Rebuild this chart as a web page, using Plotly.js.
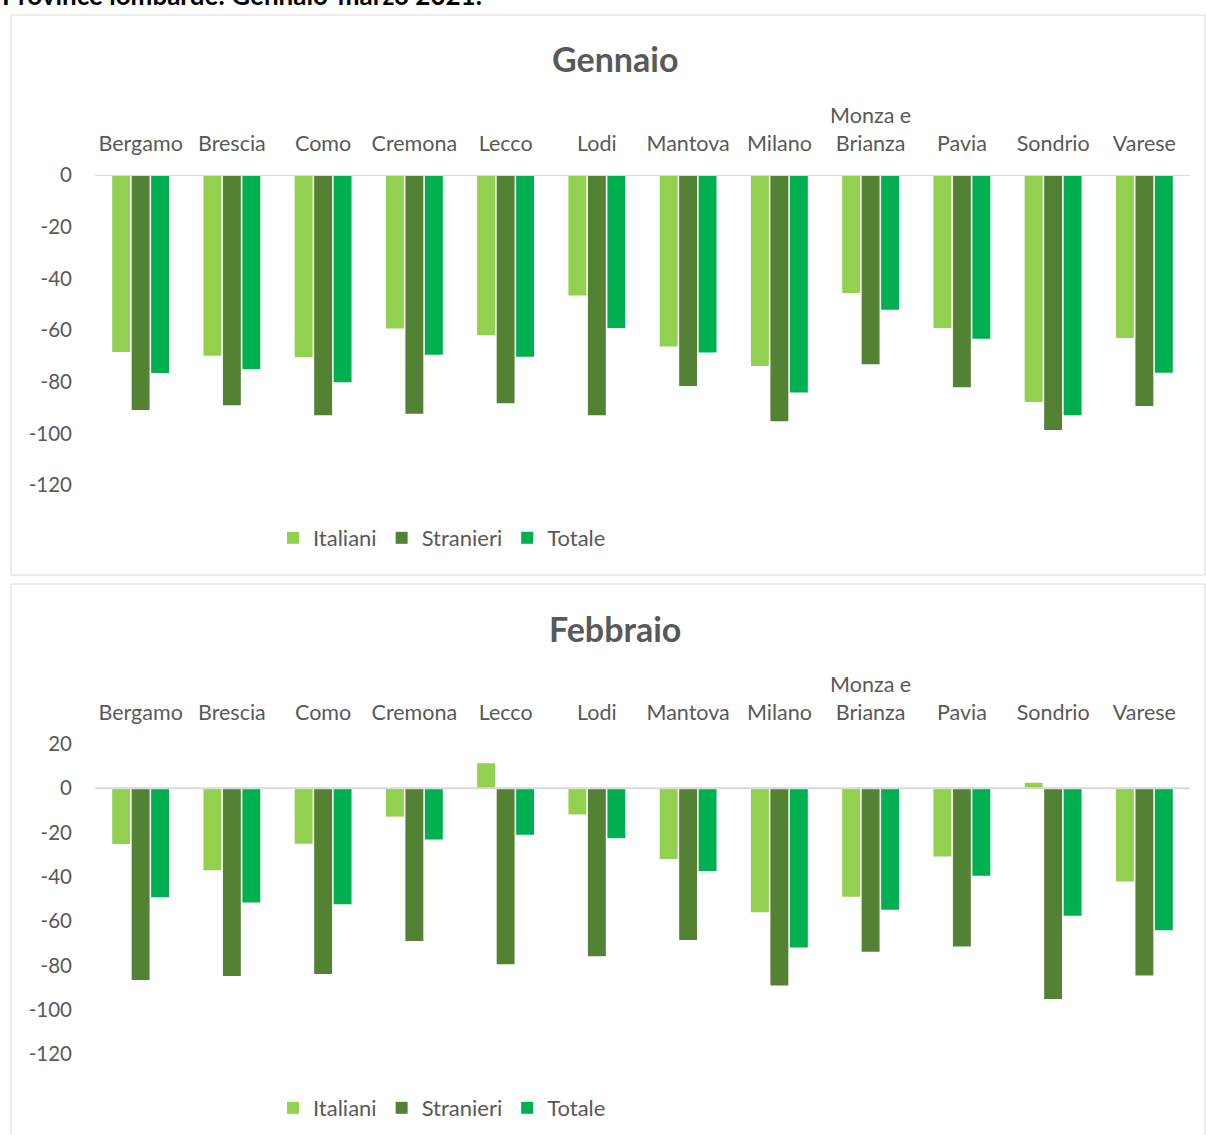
<!DOCTYPE html>
<html>
<head>
<meta charset="utf-8">
<script src="https://cdn.plot.ly/plotly-3.0.1.min.js"></script>
<style>html,body{margin:0;padding:0;background:#fff;}#chart{width:1206px;height:1135px;}</style>
</head>
<body>
<div id="chart"></div>
<script>
const provinces = ["Bergamo","Brescia","Como","Cremona","Lecco","Lodi","Mantova","Milano","Monza e<br>Brianza","Pavia","Sondrio","Varese"];
const series = ["Italiani","Stranieri","Totale"];
const colors = ["#92D050","#548235","#00B050"];

const genItaliani  = [-68.5,-70.0,-70.5,-59.4,-62.0,-46.6,-66.4,-73.9,-45.7,-59.2,-87.9,-63.1];
const genStranieri = [-91.0,-89.1,-93.0,-92.4,-88.4,-93.0,-81.7,-95.3,-73.3,-82.2,-98.7,-89.4];
const genTotale    = [-76.6,-75.2,-80.2,-69.6,-70.4,-59.2,-68.7,-84.2,-52.2,-63.4,-93.0,-76.5];

const febItaliani  = [-25.2,-37.0,-25.1,-12.8,11.3,-11.8,-31.9,-56.0,-49.0,-30.8,2.5,-42.1];
const febStranieri = [-86.6,-84.8,-83.9,-69.0,-79.5,-75.9,-68.5,-89.1,-73.8,-71.5,-95.2,-84.6];
const febTotale    = [-49.2,-51.6,-52.4,-23.1,-21.0,-22.5,-37.4,-71.9,-54.8,-39.5,-57.6,-64.1];

const genTickVals = [0,-20,-40,-60,-80,-100,-120];
const genTickText = ["0","-20","-40","-60","-80","-100","-120"];
const febTickVals = [20,0,-20,-40,-60,-80,-100,-120];
const febTickText = ["20","0","-20","-40","-60","-80","-100","-120"];

const months = [
  {title:"Gennaio", data:[genItaliani,genStranieri,genTotale], range:[-120,0], tv:genTickVals, tt:genTickText},
  {title:"Febbraio", data:[febItaliani,febStranieri,febTotale], range:[-120,20], tv:febTickVals, tt:febTickText}
];

const W = 1206, H = 1135;
const px = v => v / W;
const py = v => 1 - v / H;

const FONT = "Lato, 'Open Sans', sans-serif";
const GREY = "#595959";

const traces = [];
months.forEach((m, mi) => {
  const sfx = mi === 0 ? "" : "2";
  m.data.forEach((vals, si) => {
    traces.push({
      type: "bar",
      name: series[si],
      x: provinces,
      y: vals,
      xaxis: "x" + sfx,
      yaxis: "y" + sfx,
      legend: mi === 0 ? "legend" : "legend2",
      marker: {color: colors[si], line: {width: 0}},
      hoverinfo: "x+y+name"
    });
  });
});

const axisX = (anchor) => ({
  domain: [px(95), px(1190)],
  anchor: anchor,
  side: "top",
  showgrid: false,
  zeroline: false,
  showline: false,
  ticks: "",
  ticklabelstandoff: 19,
  tickfont: {family: FONT, size: 21.5, color: GREY},
  fixedrange: true
});

const axisY = (domain, m, anchor) => ({
  domain: domain,
  anchor: anchor,
  range: m.range,
  tickmode: "array",
  tickvals: m.tv,
  ticktext: m.tt,
  showgrid: false,
  zeroline: false,
  showline: false,
  ticks: "",
  ticklabelstandoff: 22,
  tickfont: {family: FONT, size: 20.5, color: GREY},
  fixedrange: true
});

const legendCfg = (yc) => ({
  orientation: "h", x: px(273), xanchor: "left", y: py(yc), yanchor: "middle",
  font: {family: FONT, size: 22, color: GREY}, bgcolor: "rgba(0,0,0,0)",
  itemclick: false, itemdoubleclick: false, tracegroupgap: 0
});

const layout = {
  width: W, height: H,
  margin: {l: 0, r: 0, t: 0, b: 0},
  paper_bgcolor: "#ffffff",
  plot_bgcolor: "rgba(0,0,0,0)",
  barmode: "group",
  bargap: 0.36,
  bargroupgap: 0.08,
  font: {family: FONT, color: GREY},
  xaxis: axisX("y"),
  yaxis: axisY([py(485), py(175)], months[0], "x"),
  xaxis2: axisX("y2"),
  yaxis2: axisY([py(1054), py(744)], months[1], "x2"),
  legend: legendCfg(538),
  legend2: legendCfg(1108),
  shapes: [
    {type: "rect", xref: "paper", yref: "paper", x0: px(11), x1: px(1205), y0: py(575), y1: py(15),
     line: {color: "#d9d9d9", width: 1}, fillcolor: "rgba(0,0,0,0)", layer: "below"},
    {type: "rect", xref: "paper", yref: "paper", x0: px(11), x1: px(1205), y0: py(1140), y1: py(584),
     line: {color: "#d9d9d9", width: 1}, fillcolor: "rgba(0,0,0,0)", layer: "below"},
    {type: "line", xref: "x domain", yref: "y", x0: 0, x1: 1, y0: 0, y1: 0,
     line: {color: "#d9d9d9", width: 2}, layer: "above"},
    {type: "line", xref: "x2 domain", yref: "y2", x0: 0, x1: 1, y0: 0, y1: 0,
     line: {color: "#d9d9d9", width: 2}, layer: "above"}
  ],
  annotations: [
    {text: "<b>Province lombarde: Gennaio-marzo 2021.</b>", xref: "paper", yref: "paper",
     x: 0, xanchor: "left", y: py(13), yanchor: "bottom", showarrow: false,
     font: {family: FONT, size: 26, color: "#000000"}},
    {text: "<b>" + months[0].title + "</b>", xref: "paper", yref: "paper",
     x: px(615), xanchor: "center", y: py(59), yanchor: "middle", showarrow: false,
     font: {family: FONT, size: 34, color: GREY}},
    {text: "<b>" + months[1].title + "</b>", xref: "paper", yref: "paper",
     x: px(615), xanchor: "center", y: py(628), yanchor: "middle", showarrow: false,
     font: {family: FONT, size: 34, color: GREY}}
  ]
};

Plotly.newPlot("chart", traces, layout, {displayModeBar: false, staticPlot: true});
</script>
</body>
</html>
